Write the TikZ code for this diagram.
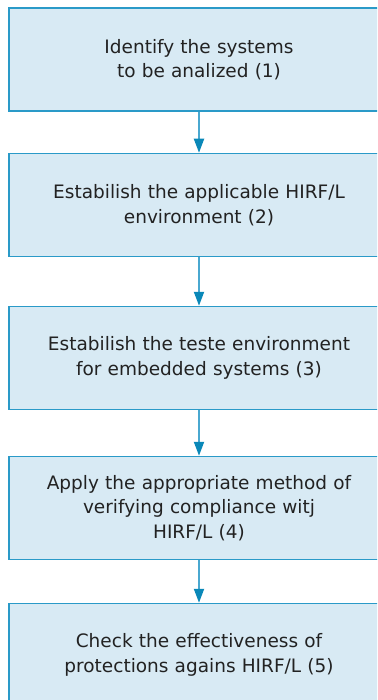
\documentclass[tikz,border=0pt]{standalone}
\usepackage{fontspec}
\setmainfont{DejaVu Sans}
\usetikzlibrary{arrows.meta}
\definecolor{boxfill}{HTML}{D8EAF4}
\definecolor{boxline}{HTML}{2A9AC8}
\definecolor{stemblue}{HTML}{4AA8D0}
\definecolor{tipblue}{HTML}{0A88B8}
\definecolor{txt}{HTML}{222222}
\begin{document}
\begin{tikzpicture}[x=1pt,y=-1pt,
  stepbox/.style={draw=boxline, fill=boxfill, line width=1.5pt,
    minimum width=380pt, minimum height=103pt, text width=360pt,
    align=center, inner sep=0pt, text=txt,
    font=\fontsize{18.5}{24.5}\selectfont},
  conn/.style={draw=stemblue, line width=2pt,
    -{Triangle[width=10pt,length=14pt,color=tipblue]}}]
\useasboundingbox (0,0) rectangle (377,700);
\clip (0,0) rectangle (377,700);
\node[stepbox] (b1) at (199,59.5) {Identify the systems\\to be analized (1)};
\node[stepbox] (b2) at (199,205) {Estabilish the applicable HIRF/L\\environment (2)};
\node[stepbox] (b3) at (199,358) {Estabilish the teste environment\\for embedded systems (3)};
\node[stepbox] (b4) at (199,508) {Apply the appropriate method of\\verifying compliance witj\\HIRF/L (4)};
\node[stepbox] (b5) at (199,655) {Check the effectiveness of\\protections agains HIRF/L (5)};
\draw[conn] (b1) -- (b2);
\draw[conn] (b2) -- (b3);
\draw[conn] (b3) -- (b4);
\draw[conn] (b4) -- (b5);
\end{tikzpicture}
\end{document}
